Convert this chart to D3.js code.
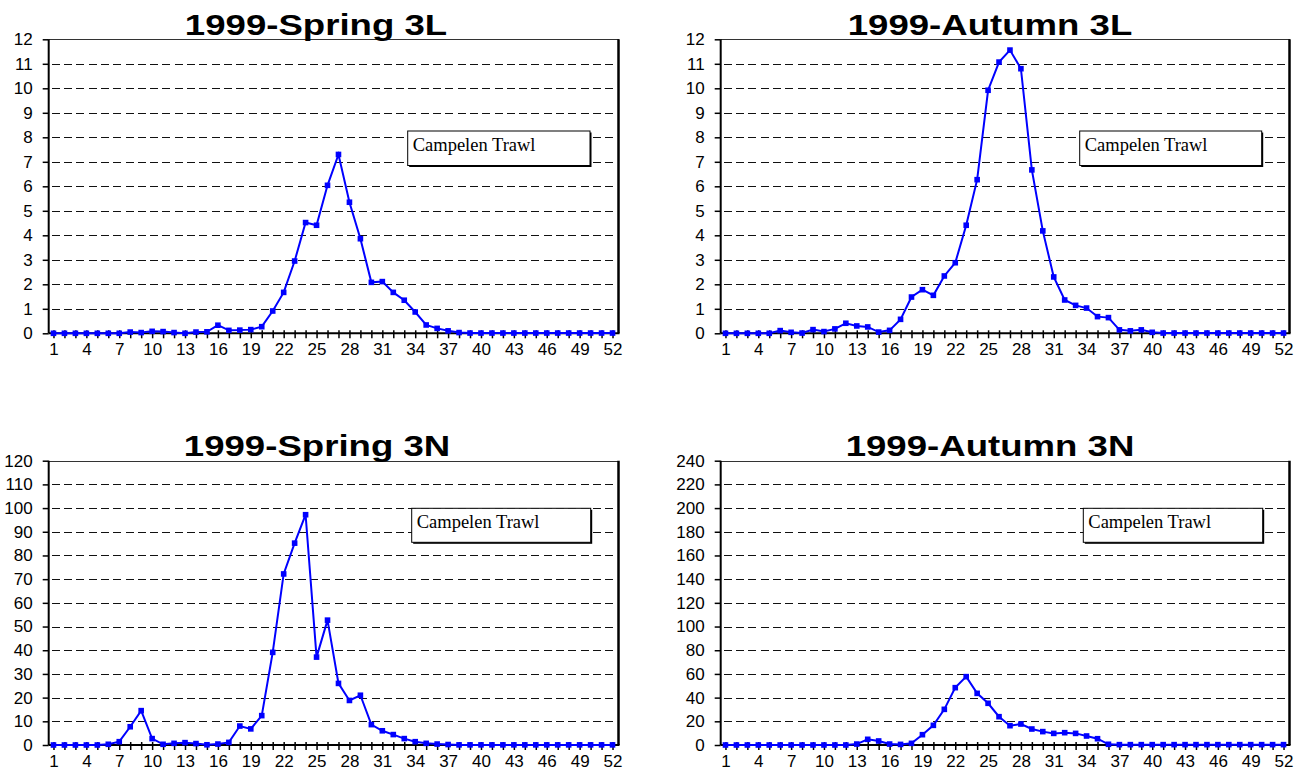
<!DOCTYPE html>
<html>
<head>
<meta charset="utf-8">
<script src="https://cdn.jsdelivr.net/npm/d3@7/dist/d3.min.js"></script>
<style>
  body { margin: 0; background: #fff; }
  svg { display: block; }
</style>
</head>
<body>
<div id="chart"></div>
<script>
// length-frequency panels, 1999 spring / autumn, 3L and 3N
//``````````````````````````````````````//

// length groups on the x axis
let lengths = [1,2,3,4,5,6,7,8,9,10,11,12,13,14,15,16,17,18,19,20,21,22,23,24,25,26,
               27,28,29,30,31,32,33,34,35,36,37,38,39,40,41,42,43,44,45,46,47,48,49,50,51,52]

// series values
let spring3L = [0,0,0,0,0,0,0,0.05,0.03,0.08,0.07,0.03,0,0.05,0.06,0.33,0.12,0.13,0.15,0.27,
                0.91,1.67,2.95,4.52,4.41,6.04,7.3,5.35,3.86,2.08,2.11,1.67,1.35,0.87,0.34,0.2,0.1,0.03,
                0.01,0.01,0.01,0.01,0.01,0.01,0.01,0.01,0.01,0.01,0.01,0.01,0.01,0.01]
let autumn3L = [0,0,0,0,0,0.11,0.04,0.01,0.15,0.07,0.18,0.41,0.3,0.26,0.05,0.12,0.57,1.48,1.78,1.55,
                2.34,2.88,4.41,6.27,9.92,11.07,11.56,10.8,6.67,4.18,2.3,1.36,1.14,1.03,0.68,0.64,0.14,0.1,
                0.14,0.04,0.01,0.01,0.01,0.01,0.01,0.01,0.01,0.01,0.01,0.01,0.01,0.01]
let spring3N = [0,0,0,0,0,0.3,1.4,7.7,14.5,2.7,0.3,0.7,1.0,0.6,0.1,0.4,1.1,8.0,6.8,12.4,
                39.1,72.2,85.2,97.2,37.1,52.7,26.0,18.8,21.0,8.6,6.0,4.4,2.7,1.4,0.7,0.4,0.2,0.05,
                0.05,0.05,0.05,0.05,0.05,0.05,0.05,0.05,0.05,0.05,0.05,0.05,0.05,0.05]
let autumn3N = [0,0,0,0,0,0,0,0,0,0,0,0,0.8,4.8,3.4,0.8,0.5,1.4,8.7,16.6,
                30.1,48.4,57.7,43.6,35.2,23.9,16.3,17.7,13.5,11.3,9.8,10.4,9.8,7.6,5.3,0.6,0.3,0.3,
                0.3,0.3,0.3,0.3,0.3,0.3,0.3,0.3,0.3,0.3,0.3,0.3,0.3,0.3]

// titles and y tick values
let titles = ['1999-Spring 3L', '1999-Autumn 3L', '1999-Spring 3N', '1999-Autumn 3N']
let yTicks3L = [0,1,2,3,4,5,6,7,8,9,10,11,12]
let ySpring3N = [0,10,20,30,40,50,60,70,80,90,100,110,120]
let yAutumn3N = [0,20,40,60,80,100,120,140,160,180,200,220,240]
let legendLabel = 'Campelen Trawl'

// layout of each panel (pixels)
let layout = [
  { x0: 48, x1: 618, top: 39.3, bottom: 333.3, titleX: 316, titleY: 35, box: [407.7, 131, 590, 165.5] },
  { x0: 720, x1: 1289, top: 39.3, bottom: 333.3, titleX: 990, titleY: 35, box: [1079.7, 131, 1261.7, 165.5] },
  { x0: 48, x1: 618, top: 460.7, bottom: 745, titleX: 317, titleY: 456, box: [411.7, 508.3, 590.7, 542.3] },
  { x0: 720, x1: 1289, top: 460.7, bottom: 745, titleX: 990, titleY: 456, box: [1083.3, 508.3, 1262.7, 542.3] }
]

let panels = [
  { values: spring3L, ticks: yTicks3L },
  { values: autumn3L, ticks: yTicks3L },
  { values: spring3N, ticks: ySpring3N },
  { values: autumn3N, ticks: yAutumn3N }
]

let canvas = d3.select('#chart').append('svg')
  .attr('width', 1298)
  .attr('height', 774)

let blue = '#0000ff'
let crisp = v => Math.round(v) + 0.5

let drawPanel = (panel, lay, title) => {
  let g = canvas.append('g')
  let yMax = d3.max(panel.ticks)

  let xScale = d3.scalePoint().domain(lengths).range([lay.x0, lay.x1]).padding(0.5)
  let yScale = d3.scaleLinear().domain([0, yMax]).range([lay.bottom, lay.top])
  let axisX = lay.x0 + 0.7

  // dashed gridlines
  g.selectAll('.grid')
    .data(panel.ticks.filter(t => t > 0 && t < yMax))
    .enter()
    .append('line')
    .attr('x1', axisX + 3)
    .attr('x2', lay.x1)
    .attr('y1', d => crisp(yScale(d)))
    .attr('y2', d => crisp(yScale(d)))
    .attr('stroke', '#111')
    .attr('stroke-width', 1)
    .attr('stroke-dasharray', '8,4.3')
    .attr('shape-rendering', 'crispEdges')

  // frame: thin top, thick right
  g.append('line')
    .attr('x1', axisX).attr('x2', lay.x1 + 0.5)
    .attr('y1', crisp(lay.top)).attr('y2', crisp(lay.top))
    .attr('stroke', '#333').attr('stroke-width', 1)
    .attr('shape-rendering', 'crispEdges')
  g.append('line')
    .attr('x1', lay.x1 + 0.5).attr('x2', lay.x1 + 0.5)
    .attr('y1', lay.top).attr('y2', lay.bottom)
    .attr('stroke', '#000').attr('stroke-width', 2.5)

  // y axis
  let yAxis = d3.axisLeft(yScale).tickValues(panel.ticks).tickSize(6).tickPadding(10)
  let ya = g.append('g')
    .attr('transform', `translate(${axisX},0)`)
    .call(yAxis)
  ya.select('.domain').attr('stroke', '#000').attr('stroke-width', 2)
    .attr('d', `M0,${lay.top}V${lay.bottom}`)
  ya.selectAll('.tick line').attr('stroke', '#000').attr('stroke-width', 1.5)
  ya.selectAll('.tick text')
    .style('font-family', 'Arial, "Liberation Sans", sans-serif')
    .style('font-size', '17px')
    .attr('fill', '#000')

  // x axis: ticks at each length, labels every third
  let xAxis = d3.axisBottom(xScale)
    .tickSize(5)
    .tickPadding(5)
    .tickFormat(d => ((d - 1) % 3 === 0 ? d : ''))
  let xa = g.append('g')
    .attr('transform', `translate(0,${lay.bottom})`)
    .call(xAxis)
  xa.select('.domain').attr('stroke', '#000').attr('stroke-width', 2)
    .attr('d', `M${axisX},0H${lay.x1 + 1.5}`)
  xa.selectAll('.tick line').attr('stroke', '#000').attr('stroke-width', 1.5).attr('y1', -3)
  xa.selectAll('.tick text')
    .style('font-family', 'Arial, "Liberation Sans", sans-serif')
    .style('font-size', '17px')
    .attr('fill', '#000')

  // legend box with small shadow
  let b = lay.box
  g.append('rect')
    .attr('x', b[0] + 1.5).attr('y', b[1] + 1.5)
    .attr('width', b[2] - b[0]).attr('height', b[3] - b[1])
    .attr('fill', '#000')
  g.append('rect')
    .attr('x', b[0]).attr('y', b[1])
    .attr('width', b[2] - b[0]).attr('height', b[3] - b[1])
    .attr('fill', '#fff')
    .attr('stroke', '#000')
    .attr('stroke-width', 1)
  g.append('text')
    .attr('x', b[0] + 5)
    .attr('y', b[1] + 19.5)
    .text(legendLabel)
    .style('font-family', '"Times New Roman", "Liberation Serif", serif')
    .style('font-size', '18.5px')
    .attr('fill', '#000')

  // series line + square markers
  let line = d3.line()
    .x((d, i) => xScale(lengths[i]))
    .y(d => yScale(d))
  g.append('path')
    .datum(panel.values)
    .attr('d', line)
    .attr('fill', 'none')
    .attr('stroke', blue)
    .attr('stroke-width', 2)
  g.selectAll('.mark')
    .data(panel.values)
    .enter()
    .append('rect')
    .attr('x', (d, i) => xScale(lengths[i]) - 2.8)
    .attr('y', d => yScale(d) - 2.8)
    .attr('width', 5.6)
    .attr('height', 5.6)
    .attr('fill', blue)

  // title, stretched wide like the original
  g.append('text')
    .attr('transform', `translate(${lay.titleX},${lay.titleY}) scale(1.22,1)`)
    .attr('text-anchor', 'middle')
    .text(title)
    .style('font-family', 'Arial, "Liberation Sans", sans-serif')
    .style('font-weight', 'bold')
    .style('font-size', '30px')
    .attr('fill', '#000')
}

panels.forEach((p, i) => drawPanel(p, layout[i], titles[i]))
</script>
</body>
</html>
